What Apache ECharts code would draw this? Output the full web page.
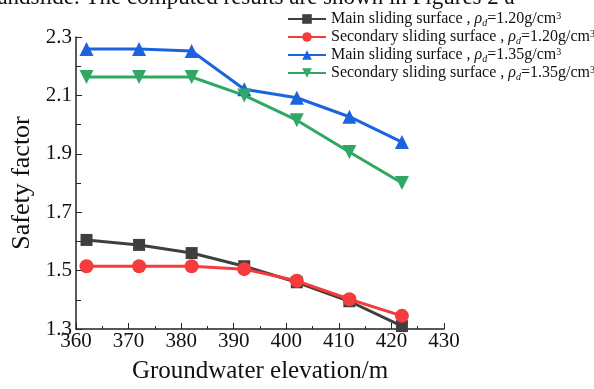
<!DOCTYPE html>
<html>
<head>
<meta charset="utf-8">
<script src="https://cdn.jsdelivr.net/npm/echarts@6/dist/echarts.min.js"></script>
<style>
  html, body { margin: 0; padding: 0; background: #fff; }
  #chart { width: 594px; height: 389px; }
</style>
</head>
<body>
<div id="chart"></div>
<script>
// groundwater elevation (m)
const elevations = [362, 372, 382, 392, 402, 412, 422];

const mainLow = [1.605, 1.588, 1.56, 1.515, 1.46, 1.395, 1.31];
const secLow = [1.515, 1.515, 1.515, 1.505, 1.465, 1.402, 1.345];
const mainHigh = [2.259, 2.259, 2.252, 2.121, 2.092, 2.027, 1.94];
const secHigh = [2.163, 2.163, 2.163, 2.1, 2.015, 1.906, 1.8];

const seriesNames = [
  "Main sliding surface , {r|ρ}{s|d}=1.20g/cm{p|3}",
  "Secondary sliding surface , {r|ρ}{s|d}=1.20g/cm{p|3}",
  "Main sliding surface , {r|ρ}{s|d}=1.35g/cm{p|3}",
  "Secondary sliding surface , {r|ρ}{s|d}=1.35g/cm{p|3}"
];
const colors = ["#3f3f3f", "#f53b3b", "#1c64de", "#2fa863"];
const symbols = ["rect", "circle", "triangle", "path://M0,0 L10,0 L5,9 Z"];
const symbolSizes = [12, 14, 14, 14];

const font = '"Liberation Serif", "Times New Roman", serif';
const pairs = (ys) => elevations.map((x, i) => [x, ys[i]]);
const allValues = [mainLow, secLow, mainHigh, secHigh];

const chart = echarts.init(document.getElementById("chart"));

chart.setOption({
  animation: false,
  backgroundColor: "#fff",
  textStyle: { fontFamily: font, color: "#111" },
  graphic: [{
    type: "text",
    left: -9,
    top: -14,
    style: {
      text: "landslide. The computed results are shown in Figures 2 a",
      font: "23px " + font,
      fill: "#111"
    }
  }],
  legend: {
    orient: "vertical",
    left: 282,
    top: 5,
    itemWidth: 38,
    itemHeight: 12,
    itemGap: 0,
    textStyle: {
      fontFamily: font,
      fontSize: 16,
      lineHeight: 17,
      color: "#111",
      rich: {
        r: { fontFamily: font, fontSize: 16, lineHeight: 17, fontStyle: "italic" },
        s: { fontFamily: font, fontSize: 10, lineHeight: 17, fontStyle: "italic", padding: [8, 0, 0, 0] },
        p: { fontFamily: font, fontSize: 10, lineHeight: 17, padding: [0, 0, 6, 0] }
      }
    },
    data: seriesNames
  },
  grid: { left: 76, right: 150, top: 37, bottom: 59, containLabel: false },
  xAxis: {
    type: "value",
    min: 360,
    max: 430,
    interval: 10,
    name: "Groundwater elevation/m",
    nameLocation: "middle",
    nameGap: 30,
    nameTextStyle: { fontFamily: font, fontSize: 25, color: "#111" },
    axisLine: { lineStyle: { color: "#222", width: 1.5 } },
    axisTick: { inside: true, length: 6, lineStyle: { color: "#222" } },
    minorTick: { show: true, splitNumber: 2, length: 3, lineStyle: { color: "#222" } },
    splitLine: { show: false },
    axisLabel: { fontFamily: font, fontSize: 21, color: "#111", margin: 2 }
  },
  yAxis: {
    type: "value",
    min: 1.3,
    max: 2.3,
    interval: 0.2,
    name: "Safety factor",
    nameLocation: "middle",
    nameGap: 36,
    nameTextStyle: { fontFamily: font, fontSize: 26, color: "#111" },
    axisLine: { show: true, lineStyle: { color: "#222", width: 1.5 } },
    axisTick: { inside: true, length: 6, lineStyle: { color: "#222" } },
    minorTick: { show: true, splitNumber: 2, length: 5, lineStyle: { color: "#222" } },
    splitLine: { show: false },
    axisLabel: {
      fontFamily: font,
      fontSize: 21,
      color: "#111",
      margin: 4,
      formatter: (v) => v.toFixed(1)
    }
  },
  series: seriesNames.map((name, i) => ({
    name,
    type: "line",
    data: pairs(allValues[i]),
    symbol: symbols[i],
    symbolSize: symbolSizes[i],
    showAllSymbol: true,
    color: colors[i],
    lineStyle: { width: 3, color: colors[i] },
    itemStyle: { color: colors[i] }
  }))
});
</script>
</body>
</html>
